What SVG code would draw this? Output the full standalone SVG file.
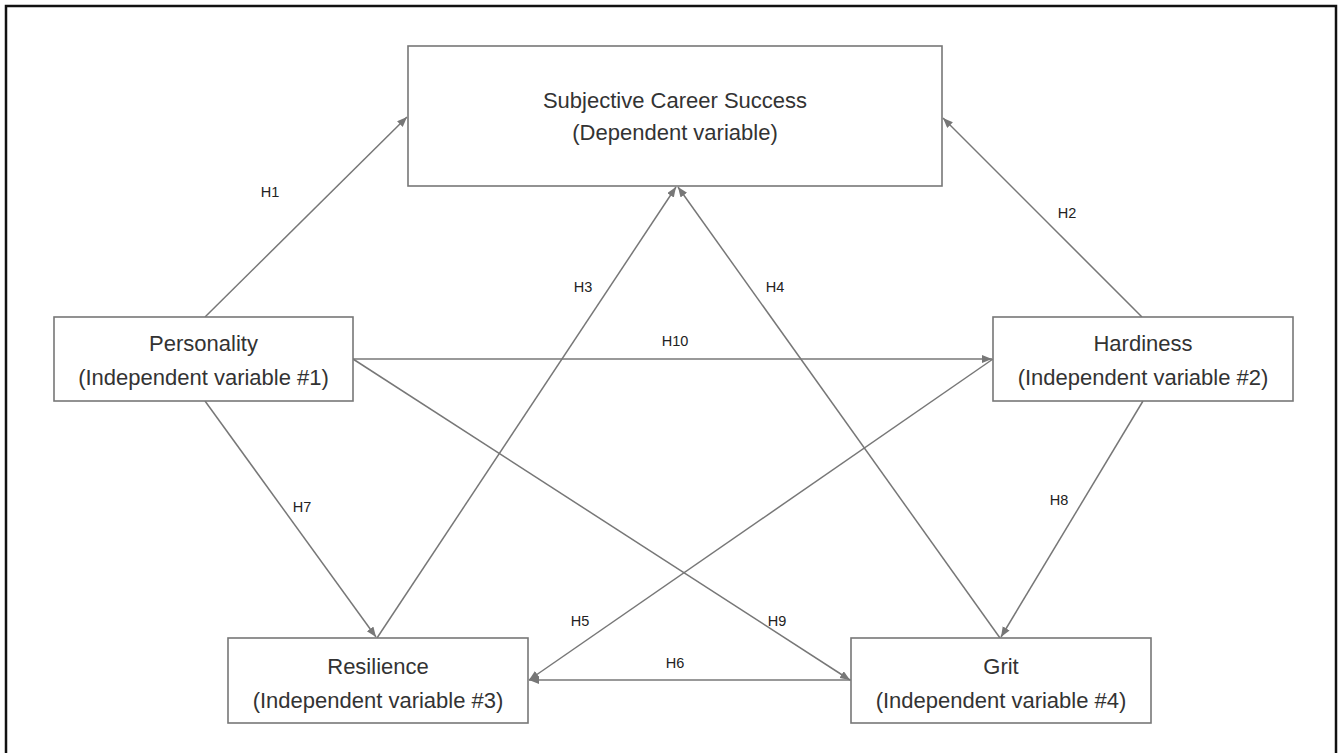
<svg xmlns="http://www.w3.org/2000/svg" width="1338" height="753" viewBox="0 0 1338 753">
<style>
.box{fill:#fff;stroke:#777;stroke-width:1.6}
.t{font-family:"Liberation Sans",Arial,sans-serif;font-size:22px;fill:#333;text-anchor:middle}
.l{font-family:"Liberation Sans",Arial,sans-serif;font-size:14.5px;fill:#222;text-anchor:middle}
.c{stroke:#777;stroke-width:1.5;fill:none;marker-end:url(#ah)}
</style>
<defs>
<marker id="ah" markerUnits="userSpaceOnUse" markerWidth="12" markerHeight="10" refX="10" refY="4" orient="auto">
<path d="M0,0 L10,4 L0,8 Z" fill="#777"/>
</marker>
</defs>
<rect x="6" y="6" width="1330" height="770" fill="none" stroke="#111" stroke-width="2.5"/>
<g id="connectors">
<line class="c" x1="205" y1="317" x2="407" y2="117"/>
<line class="c" x1="1142" y1="317" x2="943" y2="118"/>
<line class="c" x1="377" y1="638" x2="676" y2="187"/>
<line class="c" x1="1000" y1="638" x2="678" y2="187"/>
<line class="c" x1="353" y1="359" x2="992" y2="359"/>
<line class="c" x1="353" y1="359" x2="850" y2="680"/>
<line class="c" x1="205" y1="401" x2="376" y2="637"/>
<line class="c" x1="1143" y1="401" x2="1001" y2="637"/>
<line class="c" x1="993" y1="359" x2="529" y2="680"/>
<line class="c" x1="851" y1="680" x2="529" y2="680"/>
<text class="l" x="270" y="197">H1</text>
<text class="l" x="1067" y="218">H2</text>
<text class="l" x="583" y="292">H3</text>
<text class="l" x="775" y="292">H4</text>
<text class="l" x="580" y="626">H5</text>
<text class="l" x="675" y="668">H6</text>
<text class="l" x="302" y="512">H7</text>
<text class="l" x="1059" y="505">H8</text>
<text class="l" x="777" y="626">H9</text>
<text class="l" x="675" y="346">H10</text>
</g>
<g id="success">
<rect class="box" x="408" y="46" width="534" height="140"/>
<text class="t" x="675" y="108">Subjective Career Success</text>
<text class="t" x="675" y="140">(Dependent variable)</text>
</g>
<g id="personality">
<rect class="box" x="54" y="317" width="299" height="84"/>
<text class="t" x="203.5" y="351">Personality</text>
<text class="t" x="203.5" y="385">(Independent variable #1)</text>
</g>
<g id="hardiness">
<rect class="box" x="993" y="317" width="300" height="84"/>
<text class="t" x="1143" y="351">Hardiness</text>
<text class="t" x="1143" y="385">(Independent variable #2)</text>
</g>
<g id="resilience">
<rect class="box" x="228" y="638" width="300" height="85"/>
<text class="t" x="378" y="674">Resilience</text>
<text class="t" x="378" y="708">(Independent variable #3)</text>
</g>
<g id="grit">
<rect class="box" x="851" y="638" width="300" height="85"/>
<text class="t" x="1001" y="674">Grit</text>
<text class="t" x="1001" y="708">(Independent variable #4)</text>
</g>
</svg>
